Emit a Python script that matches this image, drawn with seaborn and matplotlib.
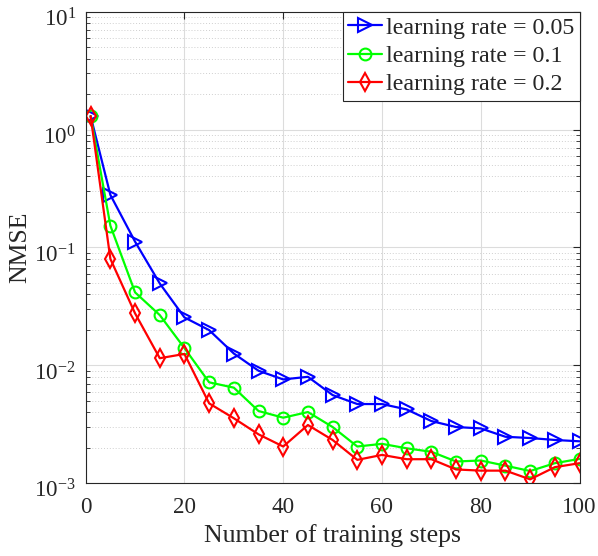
import numpy as np
import pandas as pd
import matplotlib
matplotlib.use("Agg")
import matplotlib.pyplot as plt
import seaborn as sns
from matplotlib.ticker import LogLocator, LogFormatterMathtext, NullFormatter, FixedLocator
from matplotlib.transforms import ScaledTranslation

steps = [1, 5, 10, 15, 20, 25, 30, 35, 40, 45, 50, 55, 60, 65, 70, 75, 80, 85, 90, 95, 100]
nmse_lr005 = [1.30, 0.279, 0.112, 0.0495, 0.0255, 0.0199, 0.0126, 0.0090, 0.0076, 0.0080, 0.0056,
              0.0047, 0.0047, 0.00423, 0.00337, 0.0030, 0.00292, 0.00248, 0.00242, 0.00233, 0.00227]
nmse_lr01 = [1.30, 0.153, 0.0416, 0.0267, 0.0140, 0.00718, 0.00647, 0.0041, 0.0036, 0.00402, 0.0030,
             0.00205, 0.00216, 0.00198, 0.00185, 0.00153, 0.00156, 0.00141, 0.00127, 0.00148, 0.00161]
nmse_lr02 = [1.30, 0.080, 0.0276, 0.0115, 0.0125, 0.00476, 0.00356, 0.0026, 0.00205, 0.00312, 0.00233,
             0.00158, 0.00174, 0.0016, 0.0016, 0.00131, 0.00128, 0.00128, 0.00108, 0.00137, 0.00148]
labels = ["learning rate = 0.05", "learning rate = 0.1", "learning rate = 0.2"]
xticks = [0, 20, 40, 60, 80, 100]

sns.set_theme(style="white")
plt.rcParams["font.family"] = ["Liberation Serif", "DejaVu Serif"]
plt.rcParams["mathtext.fontset"] = "custom"
plt.rcParams["mathtext.rm"] = "Liberation Serif"
plt.rcParams["mathtext.it"] = "Liberation Serif:italic"
plt.rcParams["mathtext.bf"] = "Liberation Serif:bold"

fig = plt.figure(figsize=(5.98, 5.56), dpi=100)
ax = fig.add_axes([0.1433, 0.1308, 0.8258, 0.8482])

series = [nmse_lr005, nmse_lr01, nmse_lr02]
colors = ["#0000ff", "#00ff00", "#ff0000"]
markers = [">", "o", "d"]
msizes = [9.5, 8.5, 9]
for vals, lab, c, m, ms in zip(series, labels, colors, markers, msizes):
    df = pd.DataFrame({"step": steps, "nmse": vals})
    sns.lineplot(data=df, x="step", y="nmse", ax=ax, color=c, marker=m, markersize=ms,
                 markerfacecolor="none", markeredgecolor=c, markeredgewidth=1.5,
                 linewidth=1.6, label=lab, errorbar=None)

ax.set_yscale("log")
ax.set_xlim(0, 100)
ax.set_ylim(1e-3, 1e1)
ax.xaxis.set_major_locator(FixedLocator(xticks))
ax.yaxis.set_major_locator(LogLocator(base=10, numticks=10))
ax.yaxis.set_minor_locator(LogLocator(base=10, subs=np.arange(2, 10), numticks=50))
ax.yaxis.set_major_formatter(LogFormatterMathtext())
ax.yaxis.set_minor_formatter(NullFormatter())

ax.grid(True, which="major", color="#dcdcdc", linewidth=0.8, linestyle="-")
ax.grid(True, which="minor", axis="y", color="#cfcfcf", linewidth=0.7, linestyle=(0, (1, 2)))
ax.set_axisbelow(True)

for sp in ax.spines.values():
    sp.set_color("#262626")
    sp.set_linewidth(0.8)
ax.tick_params(which="major", direction="in", length=5, width=0.8, colors="#262626",
               labelsize=16.6, top=True, right=True)
ax.tick_params(axis="x", which="major", pad=10)
ax.tick_params(axis="y", which="major", pad=7)
ax.tick_params(which="minor", direction="in", length=3, width=0.6, colors="#262626",
               left=True, right=True)
ax.tick_params(axis="both", labelcolor="#262626")

ax.set_xlabel("Number of training steps", fontsize=18.5, color="#262626", labelpad=4)
ax.set_ylabel("NMSE", fontsize=18.5, color="#262626", labelpad=2)

leg = ax.legend(loc="upper right", fontsize=17.3, frameon=True, fancybox=False, framealpha=1,
                edgecolor="#262626", borderaxespad=0, handlelength=1.42, handletextpad=0.15,
                borderpad=0.22, labelspacing=0.27)
leg.get_frame().set_linewidth(0.8)

# shift y tick labels slightly downward (MATLAB-like placement)
off = ScaledTranslation(0, -4 / 72, fig.dpi_scale_trans)
for tick in ax.yaxis.get_major_ticks():
    tick.label1.set_transform(tick.label1.get_transform() + off)

fig.savefig("out.png", dpi=100)
